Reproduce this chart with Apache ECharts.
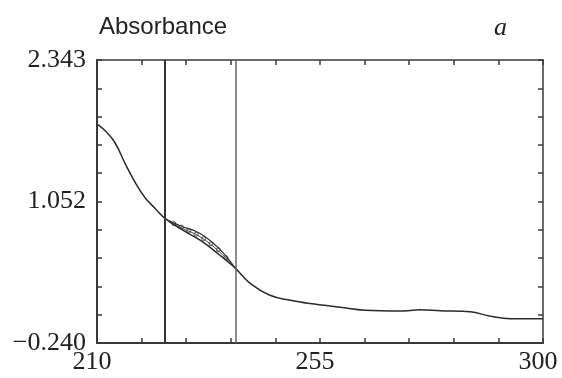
<!DOCTYPE html>
<html>
<head>
<meta charset="utf-8">
<script src="https://cdn.jsdelivr.net/npm/echarts@6/dist/echarts.min.js"></script>
<style>
  html, body { margin: 0; padding: 0; background: #fff; }
  #chart { width: 562px; height: 378px; }
</style>
</head>
<body>
<div id="chart"></div>
<script>
// spectrum
const wavelength = [210, 211.6, 213.6, 215.7, 217.7, 219.7, 221.7, 223.7, 226.8, 230.8, 234.8, 237.9,
  240.9, 244.9, 249.0, 253.0, 259.1, 264.1, 271.2, 275.2, 279.3, 285.3, 289.4, 293.4, 300];
const absorbance = [1.758, 1.700, 1.590, 1.395, 1.225, 1.085, 0.990, 0.897, 0.803, 0.698, 0.561, 0.443,
  0.305, 0.196, 0.150, 0.120, 0.086, 0.059, 0.052, 0.063, 0.054, 0.045, 0.004, -0.019, -0.019];

// fitted curves inside the selected window
const fitX = [223.7, 226.8, 230.8, 234.8, 237.9];
const fitUpper = [0.897, 0.830, 0.760, 0.615, 0.443];
const fitMiddle = [0.897, 0.816, 0.730, 0.588, 0.443];
const dotX = [225.5, 227, 228.5, 230, 231.5, 233, 234.5, 236];
const dotY = [0.850, 0.818, 0.786, 0.752, 0.712, 0.665, 0.612, 0.540];

// window borders
const windowLeft = 223.7;
const windowRight = 237.9;

const yMin = -0.240;
const yMax = 2.343;
const yStep = (yMax - yMin) / 10;
const yLabels = [-0.240, 1.052, 2.343];
const xLabels = [210, 255, 300];

const pairs = (xs, ys) => xs.map((x, i) => [x, ys[i]]);

const chart = echarts.init(document.getElementById('chart'));

const axisLine = { show: true, onZero: false, lineStyle: { color: '#3a3a3a', width: 2 } };
const thinLine = { show: true, onZero: false, lineStyle: { color: '#3a3a3a', width: 1.5 } };
const axisTick = { show: true, inside: true, length: 5, lineStyle: { color: '#3a3a3a', width: 1.5 } };

chart.setOption({
  animation: false,
  grid: { left: 97, right: 19, top: 60, bottom: 35 },
  title: [
    { text: 'Absorbance', left: 94, top: 10,
      textStyle: { fontFamily: 'Liberation Sans', fontWeight: 'normal', fontSize: 24, color: '#222' } },
    { text: 'a', left: 489, top: 10,
      textStyle: { fontFamily: 'Liberation Serif', fontStyle: 'italic', fontWeight: 'normal', fontSize: 26, color: '#222' } }
  ],
  xAxis: [
    {
      type: 'value', min: 210, max: 300, interval: 9, position: 'bottom',
      axisLine, axisTick, splitLine: { show: false },
      axisLabel: {
        margin: 6, fontFamily: 'Liberation Serif', fontSize: 26, color: '#222', padding: [0, 10, 0, 0],
        formatter: v => xLabels.some(l => Math.abs(l - v) < 0.01) ? String(Math.round(v)) : ''
      }
    },
    {
      type: 'value', min: 210, max: 300, interval: 9, position: 'top',
      axisLine: thinLine, axisTick,
      axisLabel: { show: false }, splitLine: { show: false }
    }
  ],
  yAxis: [
    {
      type: 'value', min: yMin, max: yMax, interval: yStep, position: 'left',
      axisLine, axisTick, splitLine: { show: false },
      axisLabel: {
        margin: 11, fontFamily: 'Liberation Serif', fontSize: 26, color: '#222',
        formatter: v => {
          const hit = yLabels.find(l => Math.abs(l - v) < 0.002);
          if (hit === undefined) return '';
          return hit < 0 ? '\u2212' + Math.abs(hit).toFixed(3) : hit.toFixed(3);
        }
      }
    },
    {
      type: 'value', min: yMin, max: yMax, interval: yStep, position: 'right',
      axisLine: thinLine, axisTick,
      axisLabel: { show: false }, splitLine: { show: false }
    }
  ],
  series: [
    {
      type: 'line', data: pairs(wavelength, absorbance), smooth: 0.4,
      symbol: 'none', lineStyle: { color: '#2a2a2a', width: 1.5 },
      markLine: {
        silent: true, symbol: 'none', label: { show: false },
        data: [
          { xAxis: windowLeft, lineStyle: { color: '#333', width: 2, type: 'solid' } },
          { xAxis: windowRight, lineStyle: { color: '#666', width: 1.5, type: 'solid' } }
        ]
      }
    },
    {
      type: 'line', data: pairs(fitX, fitUpper), smooth: 0.4,
      symbol: 'none', lineStyle: { color: '#2a2a2a', width: 1.2 }
    },
    {
      type: 'line', data: pairs(fitX, fitMiddle), smooth: 0.4,
      symbol: 'none', lineStyle: { color: '#444', width: 1 }
    },
    {
      type: 'scatter', data: pairs(dotX, dotY), symbol: 'circle', symbolSize: 4,
      itemStyle: { color: '#fff', borderColor: '#333', borderWidth: 1 }
    }
  ]
});
</script>
</body>
</html>
